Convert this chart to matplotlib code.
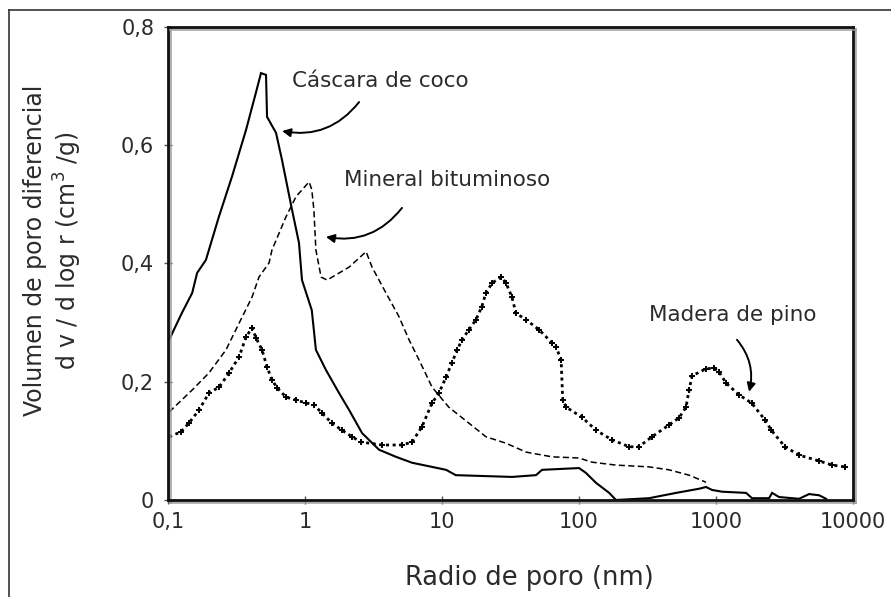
import matplotlib
matplotlib.use("Agg")
import matplotlib.pyplot as plt
import matplotlib.patheffects as pe
from matplotlib.lines import Line2D

plt.rcParams["font.family"] = ["DejaVu Sans"]
plt.rcParams["mathtext.fontset"] = "dejavusans"
TXT = "#2b2b2b"

# Pore size distributions (radius in nm, dV/dlog r in cm3/g)
coco_r = [0.1, 0.126, 0.150, 0.163, 0.189, 0.235, 0.293, 0.371, 0.438, 0.477,
          0.519, 0.528, 0.614, 0.679, 0.803, 0.903, 0.950, 1.02, 1.12, 1.20,
          1.42, 1.77, 2.10, 2.61, 3.47, 4.61, 6.04, 10.7, 12.6, 32.4, 48.5,
          53.7, 100, 112, 133, 166, 186, 324, 511, 751, 845, 935, 1107, 1656,
          1832, 2438, 2564, 2884, 4036, 4775, 5650, 6355]
coco_v = [0.267, 0.316, 0.350, 0.384, 0.406, 0.479, 0.547, 0.626, 0.689, 0.722,
          0.719, 0.648, 0.621, 0.575, 0.491, 0.435, 0.372, 0.350, 0.321, 0.254,
          0.220, 0.181, 0.152, 0.113, 0.085, 0.073, 0.063, 0.051, 0.042, 0.039, 0.042,
          0.051, 0.054, 0.046, 0.029, 0.012, 0.0, 0.003, 0.012, 0.019, 0.022, 0.017,
          0.014, 0.012, 0.003, 0.003, 0.012, 0.005, 0.002, 0.010, 0.008, 0.002]

mineral_r = [0.102, 0.150, 0.199, 0.265, 0.330, 0.410, 0.461, 0.546, 0.574, 0.726,
             0.859, 1.07, 1.12, 1.16, 1.20, 1.31, 1.45, 2.10, 2.79, 3.08, 3.90,
             4.85, 5.74, 6.79, 8.45, 11.2, 15.7, 20.9, 29.3, 41.0, 63.5, 100,
             124, 186, 324, 454, 635, 845]
mineral_v = [0.149, 0.186, 0.215, 0.254, 0.299, 0.343, 0.377, 0.401, 0.423, 0.479,
             0.513, 0.538, 0.525, 0.491, 0.423, 0.377, 0.372, 0.394, 0.420, 0.394,
             0.350, 0.310, 0.271, 0.237, 0.191, 0.157, 0.130, 0.107, 0.096, 0.081,
             0.073, 0.071, 0.064, 0.059, 0.056, 0.051, 0.042, 0.030]

pino_r = [0.102, 0.124, 0.142, 0.168, 0.199, 0.236, 0.279, 0.330, 0.371, 0.410,
          0.439, 0.485, 0.528, 0.574, 0.624, 0.726, 0.859, 1.02, 1.16, 1.33,
          1.57, 1.86, 2.20, 2.56, 3.66, 5.11, 6.04, 7.14, 8.45, 9.50, 10.7,
          11.8, 12.9, 14.0, 15.7, 17.7, 19.5, 20.9, 23.2, 27.0, 29.3, 32.4,
          34.6, 41.0, 51.0, 63.5, 67.9, 74.0, 76.0, 80.6, 105, 133, 173, 232,
          273, 341, 454, 537, 604, 635, 669, 845, 966, 1050, 1180, 1469, 1818,
          2286, 2530, 3187, 4036, 5650, 7050, 8690]
pino_v = [0.107, 0.115, 0.130, 0.152, 0.181, 0.191, 0.215, 0.242, 0.276, 0.291,
          0.274, 0.254, 0.225, 0.203, 0.190, 0.174, 0.169, 0.164, 0.161, 0.147,
          0.130, 0.118, 0.107, 0.098, 0.093, 0.093, 0.098, 0.124, 0.164, 0.181,
          0.208, 0.232, 0.254, 0.271, 0.288, 0.305, 0.327, 0.350, 0.367, 0.377,
          0.367, 0.343, 0.316, 0.305, 0.288, 0.266, 0.259, 0.237, 0.169, 0.157,
          0.140, 0.118, 0.102, 0.090, 0.090, 0.107, 0.127, 0.139, 0.157, 0.186,
          0.210, 0.222, 0.223, 0.217, 0.198, 0.178, 0.164, 0.135, 0.118, 0.090,
          0.076, 0.066, 0.059, 0.056]

x_ticks = [0.1, 1, 10, 100, 1000, 10000]
x_labels = ["0,1", "1", "10", "100", "1000", "10000"]
y_ticks = [0, 0.2, 0.4, 0.6, 0.8]
y_labels = ["0", "0,2", "0,4", "0,6", "0,8"]

fig = plt.figure(figsize=(8.91, 5.97), dpi=100)
ax = fig.add_axes([0.1886, 0.1625, 0.7688, 0.7923])

ax.plot(coco_r, coco_v, color="black", lw=1.5, solid_joinstyle="miter")
ax.plot(mineral_r, mineral_v, color="black", lw=1.1, dashes=(4, 2.2))
ax.plot(pino_r, pino_v, color="black", lw=2.0, dashes=(1.1, 1.3),
        marker="+", ms=5, mew=1.4)

ax.set_xscale("log")
ax.set_xlim(0.1, 10000)
ax.set_ylim(0, 0.8)
ax.set_xticks(x_ticks, x_labels)
ax.minorticks_off()
ax.set_yticks(y_ticks, y_labels)
ax.tick_params(axis="both", direction="inout", length=6, width=1, colors="#555",
               labelcolor=TXT, labelsize=15)
ax.tick_params(axis="x", pad=6)
ax.tick_params(axis="y", pad=7)

shadow = [pe.SimpleLineShadow(offset=(1.5, -1.5), shadow_color="#999", alpha=0.8),
          pe.Normal()]
for sp in ax.spines.values():
    sp.set_linewidth(2)
    sp.set_color("#111")
    sp.set_path_effects(shadow)

ax.set_xlabel("Radio de poro (nm)", fontsize=18.5, color=TXT)
ax.xaxis.set_label_coords(0.527, -0.137)
ax.set_ylabel("Volumen de poro diferencial\nd v / d log r (cm$^3$ /g)",
              fontsize=17, color=TXT, linespacing=1.2)
ax.yaxis.set_label_coords(-0.122, 0.528)

arrow = dict(arrowstyle="-|>,head_length=0.5,head_width=0.25", color="black", lw=1.4,
             shrinkA=0, shrinkB=0)
ax.text(0.80, 0.709, "Cáscara de coco", fontsize=15.5, color=TXT, va="center")
ax.annotate("", xy=(0.68, 0.624), xytext=(2.48, 0.673),
            arrowprops=dict(connectionstyle="arc3,rad=-0.3", **arrow))
ax.text(1.93, 0.541, "Mineral bituminoso", fontsize=15.5, color=TXT, va="center")
ax.annotate("", xy=(1.42, 0.445), xytext=(5.1, 0.494),
            arrowprops=dict(connectionstyle="arc3,rad=-0.3", **arrow))
ax.text(324, 0.313, "Madera de pino", fontsize=15.5, color=TXT, va="center")
ax.annotate("", xy=(1742, 0.183), xytext=(1422, 0.271),
            arrowprops=dict(connectionstyle="arc3,rad=-0.25", **arrow))

# outer frame, open on the right and bottom
fig.add_artist(Line2D([9 / 891, 9 / 891], [0, 1 - 10 / 597], color="#333", lw=1.2))
fig.add_artist(Line2D([9 / 891, 1], [1 - 10 / 597, 1 - 10 / 597], color="#333", lw=1.2))

fig.savefig("out.png", dpi=100)
